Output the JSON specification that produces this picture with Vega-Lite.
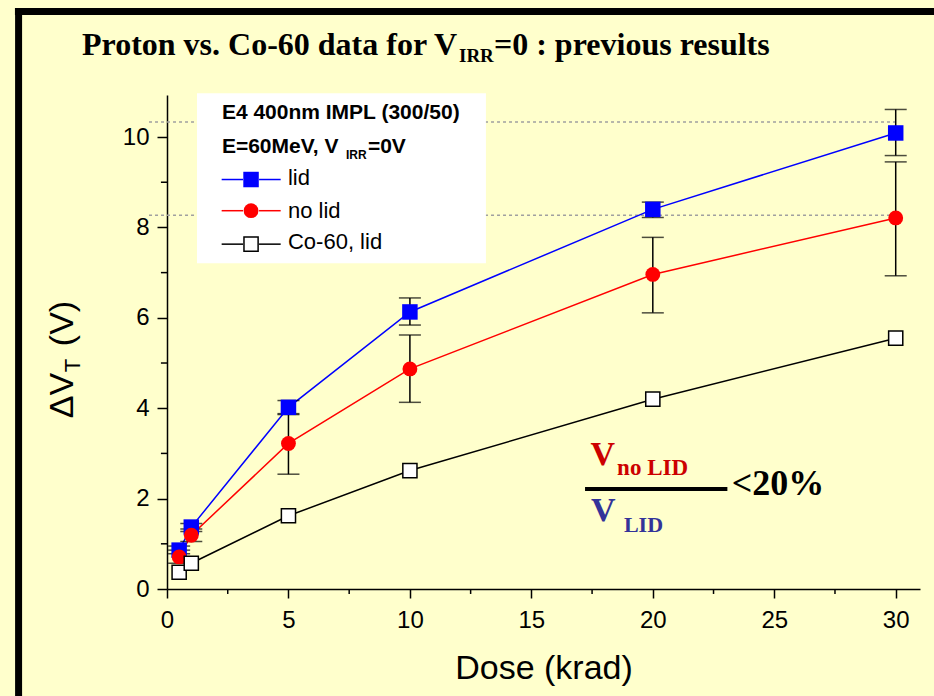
{
  "$schema": "https://vega.github.io/schema/vega-lite/v6.json",
  "width": 753,
  "height": 494,
  "autosize": {"type": "none"},
  "padding": {"left": 167, "top": 95, "right": 14, "bottom": 107},
  "background": "#FFFFCC",
  "config": {
    "view": {"stroke": null},
    "axis": {"grid": false, "domainColor": "black", "tickColor": "black", "labelColor": "black", "titleColor": "black", "labelFont": "Liberation Sans", "titleFont": "Liberation Sans", "domainWidth": 1.5, "tickWidth": 1.5}
  },
  "datasets": {
    "pts": [
      {"x": 0.5, "y": 0.86, "s": "lid"}, {"x": 1, "y": 1.37, "s": "lid"}, {"x": 5, "y": 4.02, "s": "lid"}, {"x": 10, "y": 6.13, "s": "lid"}, {"x": 20, "y": 8.40, "s": "lid"}, {"x": 30, "y": 10.09, "s": "lid"},
      {"x": 0.5, "y": 0.71, "s": "no lid"}, {"x": 1, "y": 1.19, "s": "no lid"}, {"x": 5, "y": 3.22, "s": "no lid"}, {"x": 10, "y": 4.87, "s": "no lid"}, {"x": 20, "y": 6.96, "s": "no lid"}, {"x": 30, "y": 8.21, "s": "no lid"},
      {"x": 0.5, "y": 0.37, "s": "Co-60, lid"}, {"x": 1, "y": 0.57, "s": "Co-60, lid"}, {"x": 5, "y": 1.62, "s": "Co-60, lid"}, {"x": 10, "y": 2.62, "s": "Co-60, lid"}, {"x": 20, "y": 4.20, "s": "Co-60, lid"}, {"x": 30, "y": 5.55, "s": "Co-60, lid"}
    ],
    "err": [
      {"x": 0.5, "y": 0.78, "y2": 0.95, "s": "lid"}, {"x": 1, "y": 1.27, "y2": 1.45, "s": "lid"}, {"x": 5, "y": 3.86, "y2": 4.17, "s": "lid"}, {"x": 10, "y": 5.84, "y2": 6.44, "s": "lid"}, {"x": 20, "y": 8.22, "y2": 8.56, "s": "lid"}, {"x": 30, "y": 9.59, "y2": 10.61, "s": "lid"},
      {"x": 0.5, "y": 0.57, "y2": 0.86, "s": "no lid"}, {"x": 1, "y": 1.05, "y2": 1.33, "s": "no lid"}, {"x": 5, "y": 2.54, "y2": 3.88, "s": "no lid"}, {"x": 10, "y": 4.13, "y2": 5.62, "s": "no lid"}, {"x": 20, "y": 6.11, "y2": 7.78, "s": "no lid"}, {"x": 30, "y": 6.93, "y2": 9.45, "s": "no lid"}
    ],
    "minor": [
      {"x": -0.25, "x2": 0, "y": 1, "y2": 1}, {"x": -0.25, "x2": 0, "y": 3, "y2": 3}, {"x": -0.25, "x2": 0, "y": 5, "y2": 5}, {"x": -0.25, "x2": 0, "y": 7, "y2": 7}, {"x": -0.25, "x2": 0, "y": 9, "y2": 9},
      {"x": 2.5, "x2": 2.5, "y": 0, "y2": -0.11}, {"x": 7.5, "x2": 7.5, "y": 0, "y2": -0.11}, {"x": 12.5, "x2": 12.5, "y": 0, "y2": -0.11}, {"x": 17.5, "x2": 17.5, "y": 0, "y2": -0.11}, {"x": 22.5, "x2": 22.5, "y": 0, "y2": -0.11}, {"x": 27.5, "x2": 27.5, "y": 0, "y2": -0.11}
    ],
    "frame": [
      {"x": -6.26, "x2": 40, "y": 12.78, "y2": 12.78},
      {"x": -6.11, "x2": -6.11, "y": 12.85, "y2": -5}
    ],
    "legseg": [
      {"x": 2.25, "x2": 3.13, "y": 9.06, "y2": 9.06, "s": "lid"}, {"x": 3.79, "x2": 4.68, "y": 9.06, "y2": 9.06, "s": "lid"},
      {"x": 2.25, "x2": 3.13, "y": 8.37, "y2": 8.37, "s": "no lid"}, {"x": 3.79, "x2": 4.68, "y": 8.37, "y2": 8.37, "s": "no lid"},
      {"x": 2.25, "x2": 3.13, "y": 7.63, "y2": 7.63, "s": "Co-60, lid"}, {"x": 3.79, "x2": 4.68, "y": 7.63, "y2": 7.63, "s": "Co-60, lid"}
    ],
    "legmk": [
      {"x": 3.46, "y": 9.06, "s": "lid"}, {"x": 3.46, "y": 8.37, "s": "no lid"}, {"x": 3.46, "y": 7.63, "s": "Co-60, lid"}
    ]
  },
  "encoding": {
    "x": {"field": "x", "type": "quantitative", "scale": {"domain": [0, 31], "nice": false, "zero": false},
      "axis": {"values": [0, 5, 10, 15, 20, 25, 30], "title": "Dose (krad)", "titleFontSize": 34, "titleFontWeight": "normal", "titlePadding": 19, "labelFontSize": 24, "tickSize": 9, "labelPadding": 10, "labelFlush": false, "labelOverlap": false}},
    "y": {"field": "y", "type": "quantitative", "scale": {"domain": [0, 10.93], "nice": false, "zero": false},
      "axis": {"values": [0, 2, 4, 6, 8, 10], "title": null, "labelFontSize": 24, "tickSize": 10, "labelPadding": 8, "labelFlush": false, "labelOverlap": false}}
  },
  "layer": [
    {
      "data": {"name": "frame"},
      "mark": {"type": "rule", "color": "black", "strokeWidth": 7, "strokeCap": "butt"},
      "encoding": {"x2": {"field": "x2"}, "y2": {"field": "y2"}}
    },
    {
      "data": {"values": [{"x": -0.74, "x2": 30, "y": 10.33, "y2": 10.33}, {"x": -0.74, "x2": 30, "y": 8.27, "y2": 8.27}]},
      "mark": {"type": "rule", "color": "#A0A0A0", "strokeWidth": 1.5, "strokeDash": [3, 3]},
      "encoding": {"x2": {"field": "x2"}, "y2": {"field": "y2"}}
    },
    {
      "data": {"name": "minor"},
      "mark": {"type": "rule", "color": "black", "strokeWidth": 1.5},
      "encoding": {"x2": {"field": "x2"}, "y2": {"field": "y2"}}
    },
    {
      "data": {"values": [{"x": 1.235, "x2": 13.13, "y": 7.21, "y2": 10.97}]},
      "mark": {"type": "rect", "color": "white"},
      "encoding": {"x2": {"field": "x2"}, "y2": {"field": "y2"}}
    },
    {
      "data": {"name": "pts"},
      "mark": {"type": "line", "strokeWidth": 1.5},
      "encoding": {"color": {"field": "s", "type": "nominal", "scale": {"domain": ["lid", "no lid", "Co-60, lid"], "range": ["#0000FF", "#FF0000", "#000000"]}, "legend": null}}
    },
    {
      "data": {"name": "legseg"},
      "mark": {"type": "rule", "strokeWidth": 1.5},
      "encoding": {"x2": {"field": "x2"}, "y2": {"field": "y2"}, "color": {"field": "s", "type": "nominal", "legend": null}}
    },
    {
      "data": {"name": "err"},
      "mark": {"type": "rule", "color": "black", "strokeWidth": 1.5},
      "encoding": {"y2": {"field": "y2"}}
    },
    {
      "data": {"name": "err"},
      "transform": [{"fold": ["y", "y2"], "as": ["k", "y"]}],
      "mark": {"type": "tick", "orient": "horizontal", "size": 22, "thickness": 1.5, "color": "black"}
    },
    {
      "data": {"name": "pts"},
      "transform": [{"filter": "datum.s === 'lid'"}],
      "mark": {"type": "point", "shape": "square", "size": 240, "filled": true, "color": "#0000FF", "opacity": 1}
    },
    {
      "data": {"name": "pts"},
      "transform": [{"filter": "datum.s === 'no lid'"}],
      "mark": {"type": "point", "shape": "circle", "size": 220, "filled": true, "color": "#FF0000", "opacity": 1}
    },
    {
      "data": {"name": "pts"},
      "transform": [{"filter": "datum.s === 'Co-60, lid'"}],
      "mark": {"type": "point", "shape": "square", "size": 200, "filled": true, "fill": "white", "stroke": "black", "strokeWidth": 1.5, "opacity": 1}
    },
    {
      "data": {"name": "legmk"},
      "transform": [{"filter": "datum.s === 'lid'"}],
      "mark": {"type": "point", "shape": "square", "size": 240, "filled": true, "color": "#0000FF", "opacity": 1}
    },
    {
      "data": {"name": "legmk"},
      "transform": [{"filter": "datum.s === 'no lid'"}],
      "mark": {"type": "point", "shape": "circle", "size": 220, "filled": true, "color": "#FF0000", "opacity": 1}
    },
    {
      "data": {"name": "legmk"},
      "transform": [{"filter": "datum.s === 'Co-60, lid'"}],
      "mark": {"type": "point", "shape": "square", "size": 200, "filled": true, "fill": "white", "stroke": "black", "strokeWidth": 1.5, "opacity": 1}
    },
    {
      "data": {"values": [{"x": 4.98, "y": 8.94, "t": "lid"}, {"x": 4.98, "y": 8.20, "t": "no lid"}, {"x": 4.98, "y": 7.52, "t": "Co-60, lid"}]},
      "mark": {"type": "text", "align": "left", "baseline": "alphabetic", "font": "Liberation Sans", "fontSize": 22, "color": "black"},
      "encoding": {"text": {"field": "t"}}
    },
    {
      "data": {"values": [{"x": 2.26, "y": 10.39, "t": "E4 400nm IMPL (300/50)"}, {"x": 2.26, "y": 9.64, "t": "E=60MeV, V"}]},
      "mark": {"type": "text", "align": "left", "baseline": "alphabetic", "font": "Liberation Sans", "fontWeight": "bold", "fontSize": 21, "color": "black"},
      "encoding": {"text": {"field": "t"}}
    },
    {
      "data": {"values": [{"x": 2.26, "y": 9.64, "t": "IRR"}]},
      "mark": {"type": "text", "align": "left", "baseline": "alphabetic", "font": "Liberation Sans", "fontWeight": "bold", "fontSize": 12, "dx": 124, "dy": 6, "color": "black"},
      "encoding": {"text": {"field": "t"}}
    },
    {
      "data": {"values": [{"x": 2.26, "y": 9.64, "t": "=0V"}]},
      "mark": {"type": "text", "align": "left", "baseline": "alphabetic", "font": "Liberation Sans", "fontWeight": "bold", "fontSize": 21, "dx": 146, "color": "black"},
      "encoding": {"text": {"field": "t"}}
    },
    {
      "data": {"values": [{"x": -3.5, "y": 11.81, "t": "Proton vs. Co-60 data for V"}]},
      "mark": {"type": "text", "align": "left", "baseline": "alphabetic", "font": "Liberation Serif", "fontWeight": "bold", "fontSize": 32, "color": "black"},
      "encoding": {"text": {"field": "t"}}
    },
    {
      "data": {"values": [{"x": -3.5, "y": 11.81, "t": "IRR"}]},
      "mark": {"type": "text", "align": "left", "baseline": "alphabetic", "font": "Liberation Serif", "fontWeight": "bold", "fontSize": 19, "dx": 377, "dy": 7, "color": "black"},
      "encoding": {"text": {"field": "t"}}
    },
    {
      "data": {"values": [{"x": -3.5, "y": 11.81, "t": "=0 : previous results"}]},
      "mark": {"type": "text", "align": "left", "baseline": "alphabetic", "font": "Liberation Serif", "fontWeight": "bold", "fontSize": 32, "dx": 412, "color": "black"},
      "encoding": {"text": {"field": "t"}}
    },
    {
      "data": {"values": [{"x": -3.87, "y": 3.78, "t": "ΔV"}]},
      "mark": {"type": "text", "align": "left", "baseline": "alphabetic", "angle": 270, "font": "Liberation Sans", "fontSize": 34, "color": "black"},
      "encoding": {"text": {"field": "t"}}
    },
    {
      "data": {"values": [{"x": -3.87, "y": 3.78, "t": "T"}]},
      "mark": {"type": "text", "align": "left", "baseline": "alphabetic", "angle": 270, "font": "Liberation Sans", "fontSize": 22, "dx": 46, "dy": 7, "color": "black"},
      "encoding": {"text": {"field": "t"}}
    },
    {
      "data": {"values": [{"x": -3.87, "y": 3.78, "t": "(V)"}]},
      "mark": {"type": "text", "align": "left", "baseline": "alphabetic", "angle": 270, "font": "Liberation Sans", "fontSize": 34, "dx": 72, "color": "black"},
      "encoding": {"text": {"field": "t"}}
    },
    {
      "data": {"values": [{"x": 17.21, "x2": 23.07, "y": 2.21, "y2": 2.21}]},
      "mark": {"type": "rule", "color": "black", "strokeWidth": 4},
      "encoding": {"x2": {"field": "x2"}, "y2": {"field": "y2"}}
    },
    {
      "data": {"values": [{"x": 17.44, "y": 2.74, "t": "V"}]},
      "mark": {"type": "text", "align": "left", "baseline": "alphabetic", "font": "Liberation Serif", "fontWeight": "bold", "fontSize": 34, "color": "#CC0000"},
      "encoding": {"text": {"field": "t"}}
    },
    {
      "data": {"values": [{"x": 18.53, "y": 2.52, "t": "no LID"}]},
      "mark": {"type": "text", "align": "left", "baseline": "alphabetic", "font": "Liberation Serif", "fontWeight": "bold", "fontSize": 23, "color": "#CC0000"},
      "encoding": {"text": {"field": "t"}}
    },
    {
      "data": {"values": [{"x": 17.46, "y": 1.51, "t": "V"}]},
      "mark": {"type": "text", "align": "left", "baseline": "alphabetic", "font": "Liberation Serif", "fontWeight": "bold", "fontSize": 34, "color": "#333399"},
      "encoding": {"text": {"field": "t"}}
    },
    {
      "data": {"values": [{"x": 18.81, "y": 1.27, "t": "LID"}]},
      "mark": {"type": "text", "align": "left", "baseline": "alphabetic", "font": "Liberation Serif", "fontWeight": "bold", "fontSize": 22, "color": "#333399"},
      "encoding": {"text": {"field": "t"}}
    },
    {
      "data": {"values": [{"x": 23.25, "y": 2.08, "t": "<20%"}]},
      "mark": {"type": "text", "align": "left", "baseline": "alphabetic", "font": "Liberation Serif", "fontWeight": "bold", "fontSize": 36, "color": "black"},
      "encoding": {"text": {"field": "t"}}
    }
  ]
}
